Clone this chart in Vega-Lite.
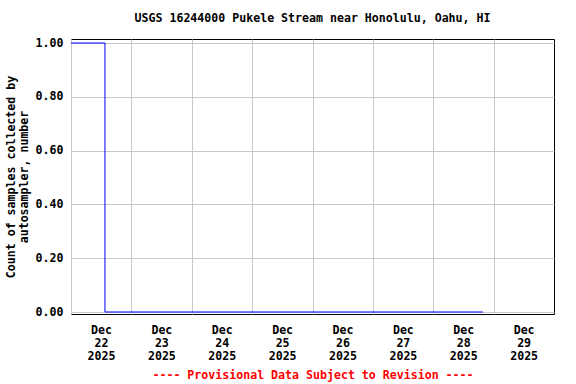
{
  "$schema": "https://vega.github.io/schema/vega-lite/v6.json",
  "width": 483,
  "height": 275,
  "autosize": {"type": "none"},
  "padding": {"left": 71, "top": 39, "right": 22, "bottom": 70},
  "background": "white",
  "title": {
    "text": "USGS 16244000 Pukele Stream near Honolulu, Oahu, HI",
    "anchor": "middle",
    "offset": 12,
    "font": "DejaVu Sans Mono",
    "fontSize": 11.6,
    "fontWeight": "bold",
    "color": "black"
  },
  "data": {
    "values": [
      {"time": "2025-12-22T00:00:00", "count": 1},
      {"time": "2025-12-22T13:30:00", "count": 0},
      {"time": "2025-12-28T19:45:00", "count": 0}
    ]
  },
  "mark": {"type": "line", "interpolate": "step-after", "color": "#0000ff", "strokeWidth": 1},
  "encoding": {
    "x": {
      "field": "time",
      "type": "temporal",
      "scale": {
        "domain": [
          {"year": 2025, "month": 12, "date": 22},
          {"year": 2025, "month": 12, "date": 30}
        ],
        "nice": false
      },
      "axis": {
        "values": [
          {"year": 2025, "month": 12, "date": 22},
          {"year": 2025, "month": 12, "date": 23},
          {"year": 2025, "month": 12, "date": 24},
          {"year": 2025, "month": 12, "date": 25},
          {"year": 2025, "month": 12, "date": 26},
          {"year": 2025, "month": 12, "date": 27},
          {"year": 2025, "month": 12, "date": 28},
          {"year": 2025, "month": 12, "date": 29}
        ],
        "labelExpr": "[timeFormat(datum.value, '%b'), timeFormat(datum.value, '%d'), timeFormat(datum.value, '%Y')]",
        "labelOffset": 30,
        "labelAlign": "center",
        "labelBaseline": "top",
        "labelPadding": 10,
        "labelLineHeight": 13,
        "labelFont": "DejaVu Sans Mono",
        "labelFontSize": 11.6,
        "labelFontWeight": "bold",
        "labelColor": "black",
        "labelOverlap": false,
        "labelFlush": false,
        "ticks": false,
        "domain": false,
        "grid": true,
        "gridColor": "#c8c8c8",
        "gridWidth": 1,
        "title": "---- Provisional Data Subject to Revision ----",
        "titleColor": "#ff0000",
        "titleFont": "DejaVu Sans Mono",
        "titleFontSize": 11.6,
        "titleFontWeight": "bold",
        "titlePadding": 8
      }
    },
    "y": {
      "field": "count",
      "type": "quantitative",
      "scale": {"domain": [-0.0074, 1.0149], "nice": false, "zero": false},
      "axis": {
        "values": [0, 0.2, 0.4, 0.6, 0.8, 1.0],
        "format": ".2f",
        "labelFont": "DejaVu Sans Mono",
        "labelFontSize": 11.6,
        "labelFontWeight": "bold",
        "labelColor": "black",
        "labelPadding": 8,
        "ticks": false,
        "domain": false,
        "grid": true,
        "gridColor": "#c8c8c8",
        "gridWidth": 1,
        "title": ["Count of samples collected by", "autosampler, number"],
        "titleFont": "DejaVu Sans Mono",
        "titleFontSize": 11.6,
        "titleFontWeight": "bold",
        "titleColor": "black",
        "titleLineHeight": 13,
        "titlePadding": 6
      }
    }
  },
  "config": {
    "view": {"stroke": "black", "strokeWidth": 1}
  }
}
